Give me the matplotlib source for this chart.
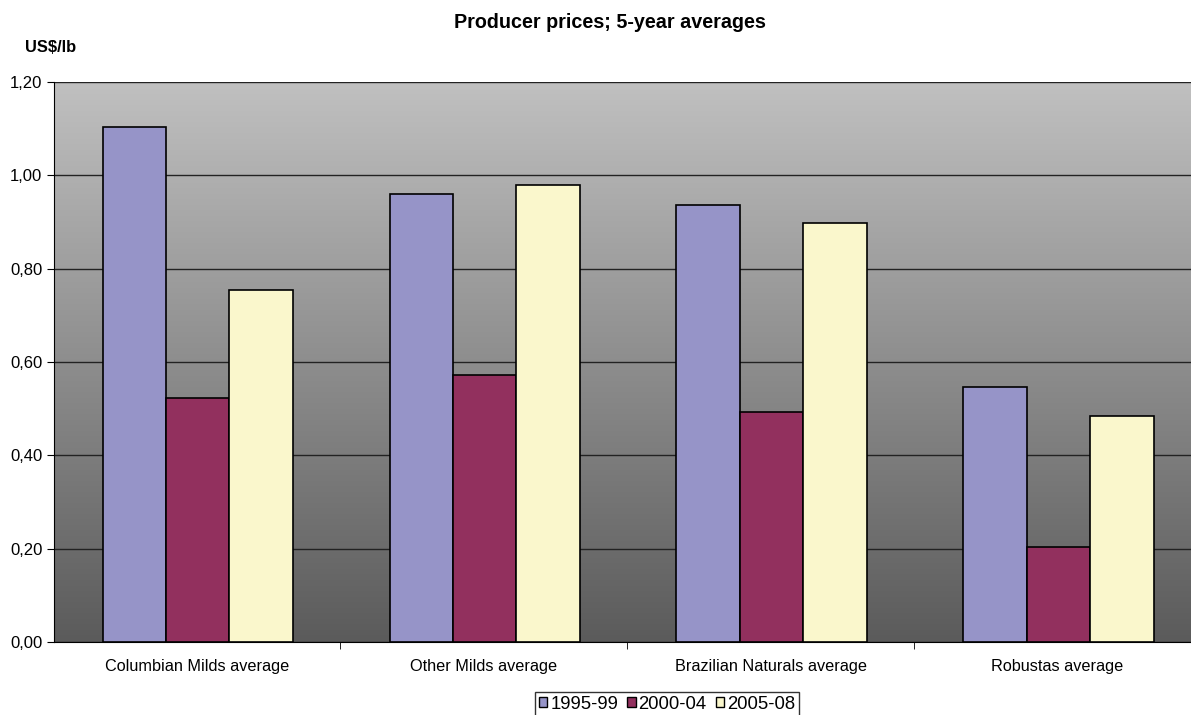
import numpy as np
import matplotlib
matplotlib.use("Agg")
import matplotlib.pyplot as plt
from matplotlib.patches import Patch

plt.rcParams['font.family'] = ['Liberation Sans', 'DejaVu Sans']

categories = ['Columbian Milds average', 'Other Milds average',
              'Brazilian Naturals average', 'Robustas average']
series = ['1995-99', '2000-04', '2005-08']
v_1995_99 = [1.103, 0.960, 0.936, 0.546]
v_2000_04 = [0.522, 0.572, 0.492, 0.203]
v_2005_08 = [0.754, 0.979, 0.897, 0.484]
colors = ['#9694C8', '#92305E', '#FAF7CC']
yticks = [0.0, 0.2, 0.4, 0.6, 0.8, 1.0, 1.2]

fig = plt.figure(figsize=(11.91, 7.15), dpi=100)
# plot area runs slightly past the right edge of the image, as in the original
ax = fig.add_axes([53.5 / 1191, 1 - 642 / 715, (1201 - 53.5) / 1191, (642 - 82) / 715])

# grey gradient background of the plot area
grad = np.linspace(0, 1, 256).reshape(-1, 1)
ax.imshow(grad, cmap=matplotlib.colors.LinearSegmentedColormap.from_list(
    'bg', ['#5b5b5b', '#c0c0c0']), origin='lower', aspect='auto',
    extent=[0, 1, 0, 1], transform=ax.transAxes, zorder=0)

x = np.arange(len(categories))
w = 0.221
for i, vals in enumerate([v_1995_99, v_2000_04, v_2005_08]):
    ax.bar(x + (i - 1) * w + 0.003, vals, width=w, color=colors[i],
           edgecolor='black', linewidth=1.2, zorder=3)

ax.set_xlim(-0.5, len(categories) - 0.5)
ax.set_ylim(0, 1.2)
ax.set_yticks(yticks)
ax.set_yticklabels([f'{t:.2f}'.replace('.', ',') for t in yticks], fontsize=12)
ax.yaxis.grid(True, color='#222222', linewidth=1)
for g in ax.get_ygridlines():
    g.set_zorder(1)

ax.set_xticks(x)
ax.set_xticklabels(categories, fontsize=11.7)
ax.tick_params(axis='x', length=0, pad=12)
ax.set_xticks(np.arange(0.5, len(categories) - 0.5), minor=True)
ax.tick_params(axis='x', which='minor', length=5, direction='out', color='black')
ax.tick_params(axis='y', length=5, direction='out', color='black', pad=3)

for s in ['top', 'right']:
    ax.spines[s].set_visible(False)
ax.spines['left'].set_color('black')
ax.spines['bottom'].set_color('black')

fig.text(610 / 1191, 1 - 22 / 715, 'Producer prices; 5-year averages',
         ha='center', va='center', fontsize=14.2, fontweight='bold')
fig.text(25 / 1191, 1 - 48 / 715, 'US$/lb', ha='left', va='center',
         fontsize=11.8, fontweight='bold')

handles = [Patch(facecolor=c, edgecolor='black', linewidth=1) for c in colors]
leg = fig.legend(handles, series, loc='upper center', ncol=3,
                 bbox_to_anchor=(667 / 1191, 1 - 692 / 715), fontsize=13.3,
                 frameon=True, fancybox=False, handlelength=0.45,
                 handleheight=0.45, handletextpad=0.15, columnspacing=0.5,
                 borderpad=0.2, borderaxespad=0)
leg.get_frame().set_edgecolor('black')
leg.get_frame().set_linewidth(1)

fig.savefig('out.png', dpi=100)
